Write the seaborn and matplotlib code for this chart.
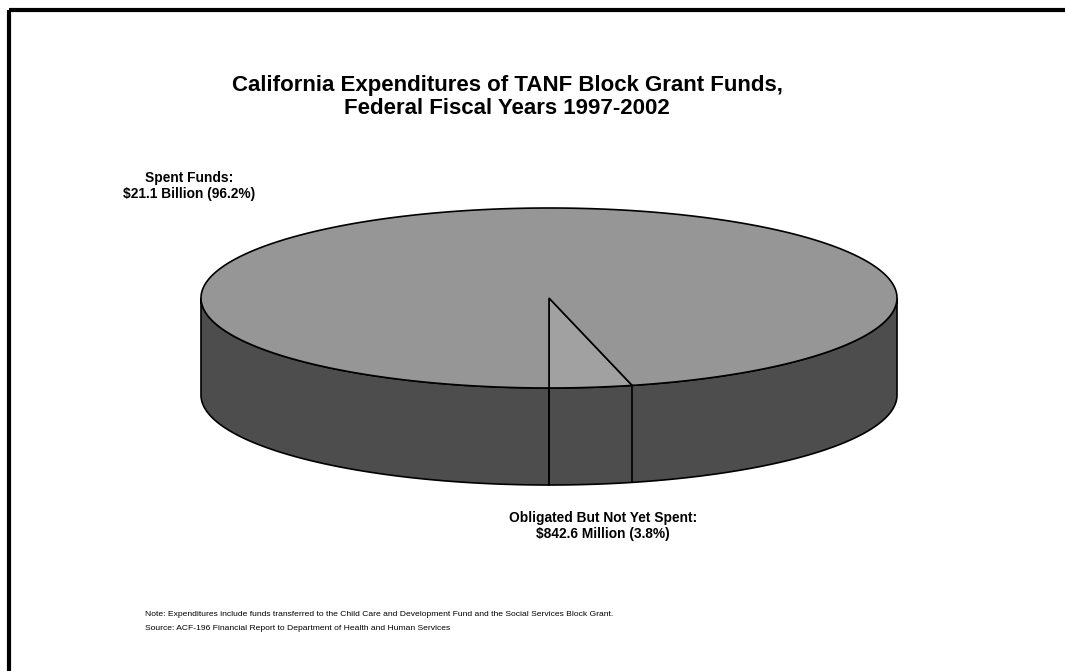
import numpy as np
import matplotlib
matplotlib.use("Agg")
import matplotlib.pyplot as plt
from matplotlib.patches import Polygon, Rectangle
import seaborn as sns

# ---- data ----
categories = ["Obligated But Not Yet Spent", "Spent Funds"]
values = [842.6, 21100.0]          # $ millions
label_lines = [["Obligated But Not Yet Spent:", "$842.6 Million (3.8%)"],
               ["Spent Funds:", "$21.1 Billion (96.2%)"]]
title = "California Expenditures of TANF Block Grant Funds,\nFederal Fiscal Years 1997-2002"
note = ("Note: Expenditures include funds transferred to the Child Care and Development Fund "
        "and the Social Services Block Grant.\n"
        "Source: ACF-196 Financial Report to Department of Health and Human Services")

sns.set_theme(style="white")
plt.rcParams["font.family"] = ["Liberation Sans", "DejaVu Sans"]
plt.rcParams["text.color"] = "black"

W, H = 1065, 671
fig = plt.figure(figsize=(W / 100, H / 100), dpi=100)
ax = fig.add_axes([0, 0, 1, 1])
ax.set_xlim(0, W)
ax.set_ylim(H, 0)
ax.axis("off")

# frame
ax.add_patch(Rectangle((8.5, 10), W, H, fill=False, edgecolor="black", lw=3, zorder=1))

# 3D pie geometry
cx, cy, a, b, depth = 549, 298, 348, 90, 97
top_colors = ["#a1a1a1", "#969696"]
side_color = "#4d4d4d"

fracs = np.array(values) / np.sum(values)
start = 270.0
bounds = [start]
for f in fracs:
    bounds.append(bounds[-1] + 360 * f)

def ell(t_deg, dy=0.0):
    t = np.radians(t_deg)
    return np.column_stack([cx + a * np.cos(t), cy - b * np.sin(t) + dy])

# side wall (front half, 180..360)
tt = np.linspace(180, 360, 300)
side = np.vstack([ell(tt), ell(tt[::-1], depth)])
ax.add_patch(Polygon(side, closed=True, facecolor=side_color, edgecolor="black", lw=1.2, zorder=2))

# top slices
for i in range(len(values)):
    t0, t1 = bounds[i], bounds[i + 1]
    ts = np.linspace(t0, t1, max(int(abs(t1 - t0)) * 3, 10))
    pts = np.vstack([[cx, cy], ell(ts)])
    ax.add_patch(Polygon(pts, closed=True, facecolor=top_colors[i], edgecolor="black", lw=1.2, zorder=3))

# vertical edges on front wall at slice boundaries
for t in bounds:
    tm = t % 360
    if 180 <= tm <= 360:
        p = ell([tm])[0]
        ax.plot([p[0], p[0]], [p[1], p[1] + depth], color="black", lw=1.2, zorder=4)

# labels
lab_pos = [(603, 526), (189, 186)]
for lines, (x, y) in zip(label_lines, lab_pos):
    ax.text(x, y, lines[0] + "\n" + lines[1], ha="center", va="center",
            fontsize=9.9, fontweight="bold", linespacing=1.25, zorder=5)

ax.text(507, 97, title, ha="center", va="center", fontsize=16, fontweight="bold",
        linespacing=1.15, zorder=5)

ax.text(145, 622, note, ha="left", va="center", fontsize=6.1, linespacing=2.4, zorder=5)

fig.savefig("out.png", dpi=100)
